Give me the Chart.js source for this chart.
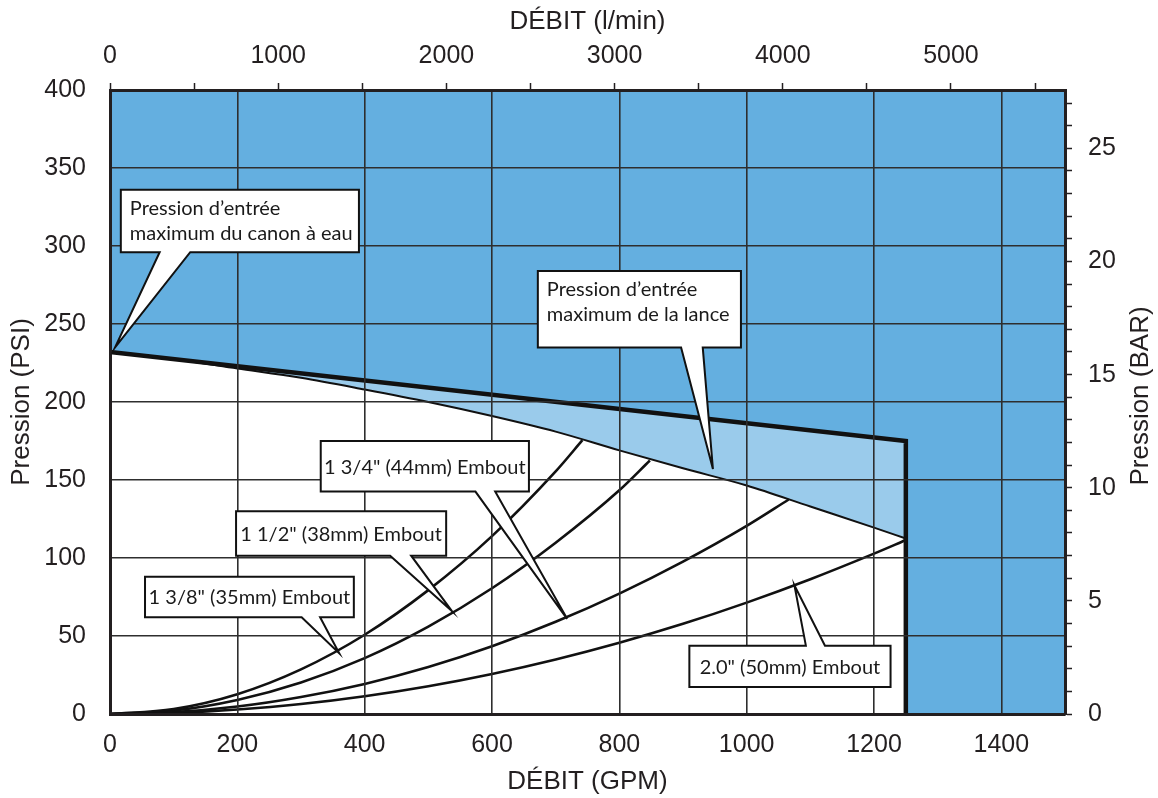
<!DOCTYPE html>
<html>
<head>
<meta charset="utf-8">
<script src="https://cdn.jsdelivr.net/npm/chart.js@4.4.1/dist/chart.umd.min.js"></script>
<style>
  html, body { margin: 0; padding: 0; background: #ffffff; }
  #wrap { width: 1158px; height: 798px; position: relative; }
</style>
</head>
<body>
<div id="wrap"><canvas id="c"></canvas></div>
<script>
// ---- Axis ticks ----
const gpmTicks = [0, 200, 400, 600, 800, 1000, 1200, 1400];
const psiTicks = [0, 50, 100, 150, 200, 250, 300, 350, 400];
const lpmTicks = [0, 500, 1000, 1500, 2000, 2500, 3000, 3500, 4000, 4500, 5000, 5500];
const lpmLabels = [0, 1000, 2000, 3000, 4000, 5000];
const barTicks = [0, 1, 2, 3, 4, 5, 6, 7, 8, 9, 10, 11, 12, 13, 14, 15, 16, 17, 18, 19, 20, 21, 22, 23, 24, 25, 26, 27];
const barLabels = [0, 5, 10, 15, 20, 25];

const GPM_MAX = 1500;
const PSI_MAX = 400;
const LPM_PER_GPM = 3.78541;
const PSI_PER_BAR = 14.5038;

// ---- Monitor inlet limit (thick line, then vertical cut-off at max flow) ----
const monitorGpm = [0, 1250, 1250];
const monitorPsi = [232, 175, 0];

// ---- Nozzle inlet limit curve ----
const lanceGpm = [0, 100, 200, 300, 400, 500, 600, 700, 800, 900, 1000, 1100, 1200, 1250];
const lancePsi = [232, 227.5, 221.5, 215.5, 208, 200, 191, 181, 169, 157.5, 146.5, 133, 119.5, 112.5];

// ---- Smooth-bore tip curves ----
const tip138Gpm = [0, 100, 200, 300, 400, 500, 600, 700, 742];
const tip138Psi = [0, 3.2, 12.7, 28.6, 50.8, 79.4, 114, 155.5, 175.5];

const tip112Gpm = [0, 100, 200, 300, 400, 500, 600, 700, 800, 848];
const tip112Psi = [0, 2.2, 9.0, 20.2, 35.8, 56, 80.6, 109.8, 143.4, 162.5];

const tip134Gpm = [0, 100, 200, 300, 400, 500, 600, 700, 800, 900, 1000, 1066];
const tip134Psi = [0, 1.2, 4.8, 10.9, 19.3, 30.1, 43.4, 59.1, 77.2, 97.7, 120.6, 137.5];

const tip200Gpm = [0, 100, 200, 300, 400, 500, 600, 700, 800, 900, 1000, 1100, 1200, 1250];
const tip200Psi = [0, 0.7, 2.9, 6.4, 11.4, 17.8, 25.7, 35, 45.7, 57.8, 71.4, 86.4, 102.8, 111.5];

const pts = (xs, ys) => xs.map((x, i) => ({ x: x, y: ys[i] }));

// ---- Colours and fonts ----
const DARK_BLUE = '#64afe0';
const LIGHT_BLUE = '#9acbeb';
const INK = '#231f20';
const GRID = '#2e2e2e';
const AXIS_FONT = 'Liberation Sans, Arial, Helvetica, sans-serif';
const NOTE_FONT = 'Lato, Carlito, Calibri, sans-serif';

// ---- Callouts: box [x0, x1, yTop, yBottom], pointer base [x0, x1] on the given box edge, tip [x, y] (data units) ----
const callouts = [
  { lines: ['Pression d\u2019entrée', 'maximum du canon à eau'], box: [17, 391, 336, 296], side: 'bottom', base: [78, 126], tip: [8, 235] },
  { lines: ['Pression d\u2019entrée', 'maximum de la lance'], box: [672, 991, 284, 235], side: 'bottom', base: [897, 931], tip: [947, 157] },
  { lines: ['1 3/4" (44mm) Embout'], box: [331, 658, 175, 142.6], side: 'bottom', base: [574, 605], tip: [718, 61] },
  { lines: ['1 1/2" (38mm) Embout'], box: [198, 528, 130, 101.5], side: 'bottom', base: [440, 473], tip: [537, 66] },
  { lines: ['1 3/8" (35mm) Embout'], box: [55, 383, 88, 62], side: 'bottom', base: [301, 330], tip: [360, 39] },
  { lines: ['2.0" (50mm) Embout'], box: [910, 1226, 43.8, 17.3], side: 'top', base: [1093, 1123], tip: [1075, 82.5] }
];

const plotBackground = {
  id: 'plotBackground',
  beforeDraw(chart) {
    const { ctx, chartArea: a } = chart;
    ctx.save();
    ctx.fillStyle = DARK_BLUE;
    ctx.fillRect(a.left, a.top, a.right - a.left, a.bottom - a.top);
    ctx.restore();
  }
};

const annotations = {
  id: 'annotations',
  afterDraw(chart) {
    const ctx = chart.ctx;
    const xs = chart.scales.x, ys = chart.scales.y;
    ctx.save();
    // right-hand axis title, reading bottom to top
    ctx.fillStyle = INK;
    ctx.font = '26px ' + AXIS_FONT;
    ctx.textAlign = 'center';
    ctx.textBaseline = 'middle';
    ctx.translate(1141, (chart.chartArea.top + chart.chartArea.bottom) / 2 - 6);
    ctx.rotate(-Math.PI / 2);
    ctx.fillText('Pression (BAR)', 0, 0);
    ctx.restore();

    callouts.forEach(c => {
      const L = xs.getPixelForValue(c.box[0]), R = xs.getPixelForValue(c.box[1]);
      const T = ys.getPixelForValue(c.box[2]), B = ys.getPixelForValue(c.box[3]);
      const b0 = xs.getPixelForValue(c.base[0]), b1 = xs.getPixelForValue(c.base[1]);
      const tx = xs.getPixelForValue(c.tip[0]), ty = ys.getPixelForValue(c.tip[1]);
      ctx.save();
      ctx.beginPath();
      if (c.side === 'top') {
        ctx.moveTo(L, T);
        ctx.lineTo(b0, T);
        ctx.lineTo(tx, ty);
        ctx.lineTo(b1, T);
        ctx.lineTo(R, T);
        ctx.lineTo(R, B);
        ctx.lineTo(L, B);
      } else {
        ctx.moveTo(L, T);
        ctx.lineTo(R, T);
        ctx.lineTo(R, B);
        ctx.lineTo(b1, B);
        ctx.lineTo(tx, ty);
        ctx.lineTo(b0, B);
        ctx.lineTo(L, B);
      }
      ctx.closePath();
      ctx.fillStyle = '#ffffff';
      ctx.fill();
      ctx.lineWidth = 2;
      ctx.lineJoin = 'miter';
      ctx.strokeStyle = '#111111';
      ctx.stroke();
      ctx.fillStyle = '#1a1a1a';
      ctx.font = '20px ' + NOTE_FONT;
      if (c.lines.length === 1) {
        ctx.textAlign = 'center';
        ctx.textBaseline = 'middle';
        ctx.fillText(c.lines[0], (L + R) / 2, (T + B) / 2 + 1);
      } else {
        ctx.textAlign = 'left';
        ctx.textBaseline = 'alphabetic';
        c.lines.forEach((s, i) => ctx.fillText(s, L + 9, T + 25 + i * 25));
      }
      ctx.restore();
    });
  }
};

const curve = (label, xs, ys) => ({
  label: label,
  data: pts(xs, ys),
  borderColor: '#111111',
  borderWidth: 2.6,
  pointRadius: 0,
  fill: false,
  cubicInterpolationMode: 'monotone',
  order: 3
});

const tickFont = { family: AXIS_FONT, size: 25 };
const titleFont = { family: AXIS_FONT, size: 26, lineHeight: 1 };
const plainLabel = v => String(v);

new Chart(document.getElementById('c'), {
  type: 'line',
  data: {
    datasets: [
      {
        label: 'zone canon',
        data: pts(monitorGpm, monitorPsi),
        borderWidth: 0,
        pointRadius: 0,
        backgroundColor: LIGHT_BLUE,
        fill: 'origin',
        tension: 0,
        order: 20
      },
      {
        label: 'Pression d\u2019entrée maximum de la lance',
        data: pts(lanceGpm, lancePsi),
        borderColor: '#111111',
        borderWidth: 2,
        pointRadius: 0,
        backgroundColor: '#ffffff',
        fill: 'origin',
        cubicInterpolationMode: 'monotone',
        order: 10
      },
      curve('1 3/8" (35mm) Embout', tip138Gpm, tip138Psi),
      curve('1 1/2" (38mm) Embout', tip112Gpm, tip112Psi),
      curve('1 3/4" (44mm) Embout', tip134Gpm, tip134Psi),
      curve('2.0" (50mm) Embout', tip200Gpm, tip200Psi),
      {
        label: 'Pression d\u2019entrée maximum du canon à eau',
        data: pts(monitorGpm, monitorPsi),
        borderColor: '#111111',
        borderWidth: 4.5,
        borderJoinStyle: 'miter',
        pointRadius: 0,
        fill: false,
        tension: 0,
        order: 1
      }
    ]
  },
  options: {
    responsive: true,
    maintainAspectRatio: false,
    animation: false,
    events: [],
    layout: { padding: 0 },
    plugins: { legend: { display: false }, tooltip: { enabled: false } },
    scales: {
      x: {
        type: 'linear',
        position: 'bottom',
        min: 0,
        max: GPM_MAX,
        afterBuildTicks: s => { s.ticks = gpmTicks.map(v => ({ value: v })); },
        afterFit: s => { s.height = 84; },
        ticks: { autoSkip: false, maxRotation: 0, padding: 16, color: INK, font: tickFont, callback: plainLabel },
        grid: { color: GRID, lineWidth: 1.6, drawTicks: false, z: 1 },
        border: { display: true, color: INK, width: 3, z: 2 },
        title: { display: true, text: 'DÉBIT (GPM)', color: INK, font: titleFont, padding: { bottom: 3 } }
      },
      x2: {
        type: 'linear',
        position: 'top',
        min: 0,
        max: GPM_MAX * LPM_PER_GPM,
        afterBuildTicks: s => { s.ticks = lpmTicks.map(v => ({ value: v })); },
        afterFit: s => { s.height = 90; },
        ticks: {
          autoSkip: false, maxRotation: 0, padding: 12, color: INK, font: tickFont,
          callback: v => (lpmLabels.includes(v) ? String(v) : '')
        },
        grid: { drawOnChartArea: false, drawTicks: true, tickLength: 7, tickColor: INK, tickWidth: 1.5 },
        border: { display: true, color: INK, width: 3, z: 2 },
        title: { display: true, text: 'DÉBIT (l/min)', color: INK, font: titleFont, padding: { top: 9 } }
      },
      y: {
        type: 'linear',
        position: 'left',
        min: 0,
        max: PSI_MAX,
        afterBuildTicks: s => { s.ticks = psiTicks.map(v => ({ value: v })); },
        afterFit: s => { s.width = 110; },
        ticks: { autoSkip: false, padding: 24, color: INK, font: tickFont, callback: plainLabel },
        grid: { color: GRID, lineWidth: 1.6, drawTicks: false, z: 1 },
        border: { display: true, color: INK, width: 3, z: 2 },
        title: { display: true, text: 'Pression (PSI)', color: INK, font: titleFont, padding: { top: 9 } }
      },
      y2: {
        type: 'linear',
        position: 'right',
        min: 0,
        max: PSI_MAX / PSI_PER_BAR,
        afterBuildTicks: s => { s.ticks = barTicks.map(v => ({ value: v })); },
        afterFit: s => { s.width = 93; },
        ticks: {
          autoSkip: false, padding: 16, color: INK, font: tickFont,
          callback: v => (barLabels.includes(v) ? String(v) : '')
        },
        grid: { drawOnChartArea: false, drawTicks: true, tickLength: 7, tickColor: INK, tickWidth: 1.5 },
        border: { display: true, color: INK, width: 3, z: 2 },
        title: { display: false }
      }
    }
  },
  plugins: [plotBackground, annotations]
});
</script>
</body>
</html>
